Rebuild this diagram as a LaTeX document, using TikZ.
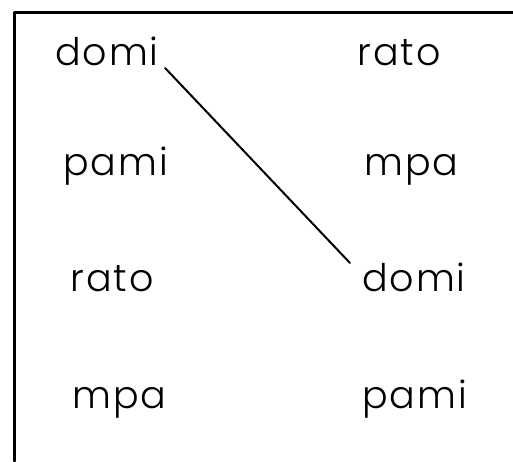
\documentclass[tikz,border=0pt]{standalone}
\usepackage{fontspec}
\setmainfont{Poppins}[UprightFont=* Light,LetterSpace=5]
\begin{document}
\begin{tikzpicture}[x=0.5pt,y=-0.5pt,
  line cap=round,line join=round,
  every node/.style={font=\fontsize{19}{23}\selectfont},
  L/.style={line width=1pt},
  B/.style={line width=1.5pt},
  w/.style={inner sep=0pt,anchor=base west}]
  \useasboundingbox (0,0) rectangle (513,461);

  %% ---- frame (only top and left edges are in view)
  \coordinate (tl) at (14,12);
  \coordinate (tr) at (513,12);
  \coordinate (bl) at (14,461);
  \draw[B] (bl) -- (tl) -- (tr);

  %% ---- left column
  \node[w] (dL) at (55,65)  {domi};
  \node[w] (pL) at (63,175) {pami};
  \node[w] (rL) at (70,291) {rato};
  \node[w] (mL) at (72,408) {mpa};

  %% ---- right column
  \node[w] (rR) at (357,65)  {rato};
  \node[w] (mR) at (364,175) {mpa};
  \node[w] (dR) at (362,291) {domi};
  \node[w] (pR) at (362,408) {pami};

  %% ---- matching line
  \draw[L] ([shift={(6,3)}]dL.base east) -- ([shift={(-12,-28)}]dR.base west);
\end{tikzpicture}
\end{document}
